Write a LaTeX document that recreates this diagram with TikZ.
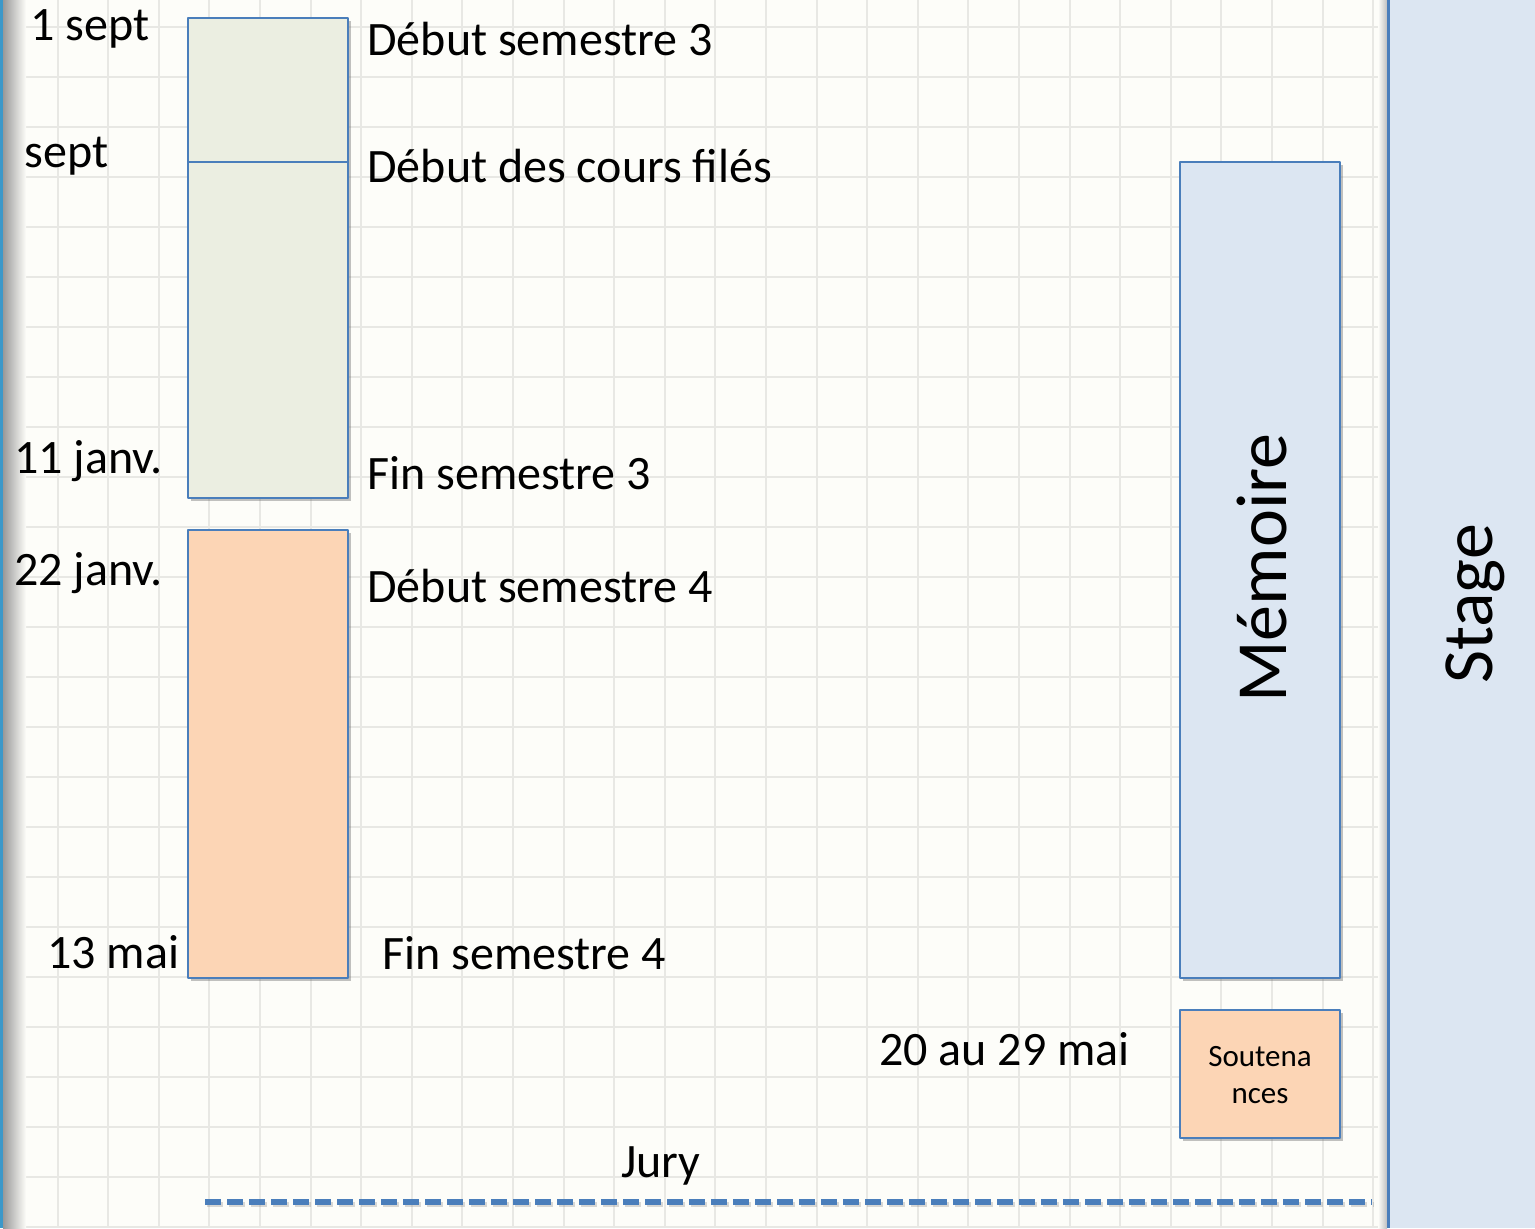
\documentclass[tikz,border=0pt]{standalone}
\usepackage{fontspec}
\setmainfont{Carlito}
\usetikzlibrary{shadows}
\definecolor{bordblue}{HTML}{4A7EBB}
\definecolor{sagefill}{HTML}{EBEEE1}
\definecolor{peach}{HTML}{FCD5B5}
\definecolor{paleblue}{HTML}{DCE6F2}
\definecolor{paper}{HTML}{FDFDF9}
\definecolor{gridgray}{HTML}{E8E8E4}
\begin{document}
\begin{tikzpicture}[x=0.5pt,y=-0.5pt, line join=round,
	bloc/.style={draw=bordblue, line width=1pt, drop shadow={shadow xshift=1.5pt, shadow yshift=-1.5pt, opacity=0.4, fill=black!60}},
	lbl/.style={anchor=base west, inner sep=0pt, font=\fontsize{24}{29}\selectfont},
	big/.style={rotate=90, anchor=base, inner sep=0pt, font=\fontsize{36}{43}\selectfont}]
	\useasboundingbox (0,0) rectangle (1535,1228);
	\fill[paper] (0,0) rectangle (1535,1228);
	% grid
	\foreach \i in {1,...,27} \draw[gridgray, line width=1pt] ({7+50.6*\i},0) -- ({7+50.6*\i},1228);
	\foreach \j in {0,...,24} \draw[gridgray, line width=1pt] (0,{27+50*\j}) -- (1535,{27+50*\j});
	% left edge of the page
	\shade[left color=black!40, right color=paper] (3,0) rectangle (26,1228);
	\fill[bordblue!80!cyan] (0,0) rectangle (3,1228);
	% stage column
	\shade[left color=paper, right color=black!25] (1378,0) rectangle (1387,1228);
	\fill[paleblue] (1388,0) rectangle (1535,1228);
	\draw[bordblue, line width=1.5pt] (1388,0) -- (1388,1228);
	% semestres
	\draw[bloc, fill=sagefill] (188,18) rectangle (348,162);
	\draw[bloc, fill=sagefill] (188,162) rectangle (348,498);
	\draw[bloc, fill=peach] (188,530) rectangle (348,978);
	% memoire, soutenances
	\draw[bloc, fill=paleblue] (1180,162) rectangle (1340,978);
	\draw[bloc, fill=peach] (1180,1010) rectangle (1340,1138);
	\node[big] (memoire) at (1286,568) {Mémoire};
	\node[big] (stage) at (1492,604) {Stage};
	\node[align=center, inner sep=0pt, font=\fontsize{15.5}{18.5}\selectfont] (soutenances) at (1260,1075) {Soutena\\nces};
	% dates
	\foreach \n/\t/\xx/\yy in {d1/1 sept/30/40, d2/sept/24/167, d3/11 janv./14/473, d4/22 janv./14/585, d5/13 mai/47/968}
	\node[lbl] (\n) at (\xx,\yy) {\t};
	% evenements
	\foreach \n/\t/\xx/\yy in {e1/Début semestre 3/367/55, e2/Début des cours filés/367/182, e3/Fin semestre 3/367/489, e4/Début semestre 4/367/602, e5/Fin semestre 4/382/969, e6/20 au 29 mai/879/1065, e7/Jury/621/1177}
	\node[lbl] (\n) at (\xx,\yy) {\t};
	% jury
	\coordinate (juryA) at (205,1202);
	\coordinate (juryB) at (1372,1202);
	\draw[black!50, opacity=0.3, line width=2.8pt, dash pattern=on 8pt off 3pt, transform canvas={xshift=0.8pt, yshift=-1.2pt}] (juryA) -- (juryB);
	\draw[bordblue, line width=2.8pt, dash pattern=on 8pt off 3pt] (juryA) -- (juryB);
\end{tikzpicture}
\end{document}
